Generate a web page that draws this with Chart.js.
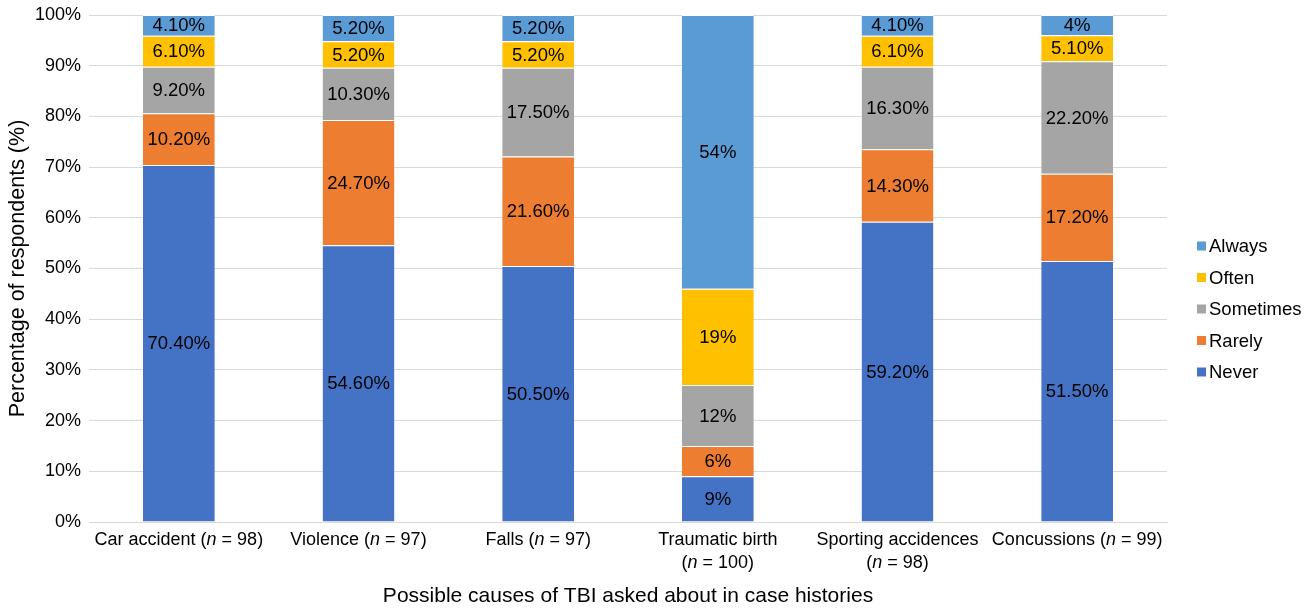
<!DOCTYPE html>
<html>
<head>
<meta charset="utf-8">
<script src="https://cdn.jsdelivr.net/npm/chart.js@4.4.1/dist/chart.umd.min.js"></script>
<style>
  html, body { margin: 0; padding: 0; background: #ffffff; }
  #wrap { width: 1315px; height: 610px; }
</style>
</head>
<body>
<div id="wrap"><canvas id="chart" width="1315" height="610"></canvas></div>
<script>
// Survey responses: how often each possible cause of TBI is asked about
const categories = ['Car accident', 'Violence', 'Falls', 'Traumatic birth', 'Sporting accidences', 'Concussions'];
const sampleSizes = [98, 97, 97, 100, 98, 99];

const seriesNames = ['Never', 'Rarely', 'Sometimes', 'Often', 'Always'];
const never     = [70.4, 54.6, 50.5,  9, 59.2, 51.5];
const rarely    = [10.2, 24.7, 21.6,  6, 14.3, 17.2];
const sometimes = [ 9.2, 10.3, 17.5, 12, 16.3, 22.2];
const often     = [ 6.1,  5.2,  5.2, 19,  6.1,  5.1];
const always    = [ 4.1,  5.2,  5.2, 54,  4.1,  4  ];
const seriesColors = ['#4472C4', '#ED7D31', '#A5A5A5', '#FFC000', '#5B9BD5'];

const yTickValues = [0, 10, 20, 30, 40, 50, 60, 70, 80, 90, 100];

const xTitle = 'Possible causes of TBI asked about in case histories';
const yTitle = 'Percentage of respondents (%)';

const FONT = "'Liberation Sans', Arial, Helvetica, sans-serif";
const TEXT = '#000000';

function pct(v) {
  return Number.isInteger(v) ? v + '%' : v.toFixed(2) + '%';
}

// Category label split into lines; the "n" is set in italics when drawn
function categoryLines(ctx, i, maxWidth) {
  const full = categories[i] + ' (n = ' + sampleSizes[i] + ')';
  ctx.font = '18px ' + FONT;
  if (ctx.measureText(full).width <= maxWidth) {
    return [[categories[i] + ' (', 'n', ' = ' + sampleSizes[i] + ')']];
  }
  return [[categories[i]], ['(', 'n', ' = ' + sampleSizes[i] + ')']];
}

function drawMixedLine(ctx, parts, cx, cy) {
  const fonts = parts.map((p, k) => (k % 2 === 1 ? 'italic ' : '') + '18px ' + FONT);
  let total = 0;
  const widths = parts.map((p, k) => { ctx.font = fonts[k]; const w = ctx.measureText(p).width; total += w; return w; });
  let x = cx - total / 2;
  ctx.textAlign = 'left';
  ctx.textBaseline = 'middle';
  parts.forEach((p, k) => { ctx.font = fonts[k]; ctx.fillText(p, x, cy); x += widths[k]; });
}

const categoryLabelPlugin = {
  id: 'categoryLabels',
  afterDraw(chart) {
    const ctx = chart.ctx;
    const xs = chart.scales.x;
    const step = xs.getPixelForValue(1) - xs.getPixelForValue(0);
    ctx.save();
    ctx.fillStyle = TEXT;
    categories.forEach((c, i) => {
      const cx = xs.getPixelForValue(i);
      const lines = categoryLines(ctx, i, step);
      lines.forEach((ln, j) => drawMixedLine(ctx, ln, cx, xs.top + 18 + j * 23));
    });
    ctx.restore();
  }
};

const valueLabelPlugin = {
  id: 'valueLabels',
  afterDatasetsDraw(chart) {
    const ctx = chart.ctx;
    ctx.save();
    ctx.font = '18.5px ' + FONT;
    ctx.fillStyle = TEXT;
    ctx.textAlign = 'center';
    ctx.textBaseline = 'middle';
    chart.data.datasets.forEach((ds, di) => {
      const meta = chart.getDatasetMeta(di);
      meta.data.forEach((bar, i) => {
        const v = ds.data[i];
        ctx.fillText(pct(v), bar.x, (bar.y + bar.base) / 2 + 1);
      });
    });
    ctx.restore();
  }
};

const legendPlugin = {
  id: 'sideLegend',
  afterDraw(chart) {
    const ctx = chart.ctx;
    const area = chart.chartArea;
    const n = chart.data.datasets.length;
    const gap = 31.5;
    const startY = chart.height / 2 + 4 - gap * (n - 1) / 2;
    const bx = area.right + 30;
    ctx.save();
    ctx.font = '18.5px ' + FONT;
    ctx.textAlign = 'left';
    ctx.textBaseline = 'middle';
    for (let k = 0; k < n; k++) {
      const ds = chart.data.datasets[n - 1 - k];
      const y = startY + k * gap;
      ctx.fillStyle = ds.backgroundColor;
      ctx.fillRect(bx, y - 4.5, 9, 9);
      ctx.fillStyle = TEXT;
      ctx.fillText(ds.label, bx + 12, y + 1);
    }
    ctx.restore();
  }
};

const seriesValues = [never, rarely, sometimes, often, always];

new Chart(document.getElementById('chart'), {
  type: 'bar',
  data: {
    labels: categories,
    datasets: seriesNames.map((name, k) => ({
      label: name,
      data: seriesValues[k],
      backgroundColor: seriesColors[k],
      borderColor: '#ffffff',
      borderWidth: { top: 1, bottom: 0, left: 0, right: 0 },
      borderSkipped: false,
      categoryPercentage: 1.0,
      barPercentage: 0.4
    }))
  },
  options: {
    responsive: false,
    devicePixelRatio: 1,
    animation: false,
    layout: { padding: { top: 15, right: 148, bottom: 0, left: 0 } },
    plugins: {
      legend: { display: false },
      tooltip: { enabled: false }
    },
    scales: {
      x: {
        stacked: true,
        grid: { display: false, drawTicks: false },
        border: { color: '#d9d9d9', width: 1 },
        ticks: { color: 'rgba(0,0,0,0)', font: { size: 18, family: FONT } },
        title: {
          display: true, text: xTitle, color: TEXT,
          font: { size: 21, family: FONT }, padding: { top: 0, bottom: 1 }
        },
        afterFit(s) { s.height = 88; }
      },
      y: {
        stacked: true,
        min: 0, max: 100,
        afterBuildTicks(s) { s.ticks = yTickValues.map(v => ({ value: v })); },
        ticks: {
          color: TEXT, padding: 8,
          font: { size: 18, family: FONT },
          callback: v => v + '%'
        },
        grid: { color: '#d9d9d9', lineWidth: 1, drawTicks: false },
        border: { display: false },
        title: {
          display: true, text: yTitle, color: TEXT,
          font: { size: 21.5, family: FONT }, padding: { top: 5, bottom: 0 }
        },
        afterFit(s) { s.width = 89; s.paddingTop = 0; s.paddingBottom = 0; }
      }
    }
  },
  plugins: [valueLabelPlugin, categoryLabelPlugin, legendPlugin]
});
</script>
</body>
</html>
